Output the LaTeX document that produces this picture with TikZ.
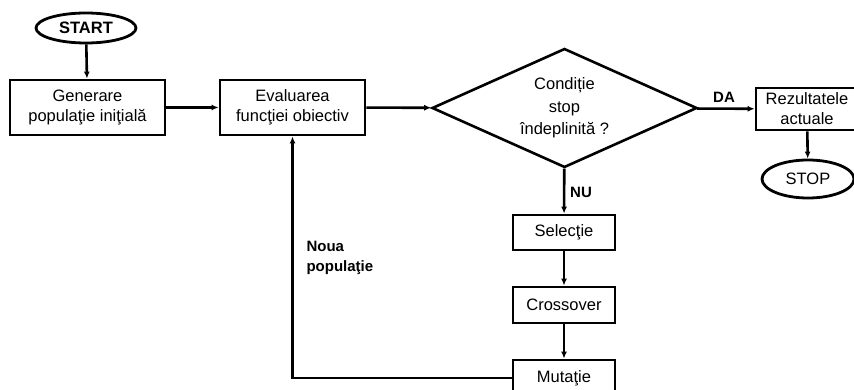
\documentclass[tikz,border=0pt]{standalone}
\usepackage{fontspec}
\setmainfont{Liberation Sans}
\usetikzlibrary{arrows.meta,positioning,shapes.geometric,shadows}

\begin{document}
\begin{tikzpicture}[
    x=1pt, y=-1pt,
    font=\fontsize{16.5}{20}\selectfont,
    box/.style={rectangle, draw, line width=2.8pt, fill=white, text centered, inner sep=2pt,
      drop shadow={shadow xshift=1.2pt, shadow yshift=-1.2pt, fill=black, opacity=1}},
    term/.style={ellipse, draw, line width=2.8pt, fill=white, inner sep=0pt},
    decision/.style={diamond, aspect=2.2, draw, line width=2.6pt, fill=white, align=center, inner sep=0pt,
      font=\fontsize{16.5}{22.5}\selectfont},
    lbl/.style={font=\fontsize{15}{20}\selectfont\bfseries, align=left},
    arrow/.style={-{Latex[length=7pt,width=6pt]}, line width=2.6pt}
  ]
    \useasboundingbox (0,0) rectangle (854,390);

    \node[term, minimum width=100pt, minimum height=30pt] (start) at (86,28) {\textbf{START}};
    \node[box, minimum width=155pt, minimum height=55pt, align=center] (gen) at (87.5,107.5) {Generare\\populaţie iniţială};
    \node[box, minimum width=145pt, minimum height=55pt, align=center] (eval) at (292.5,107.5) {Evaluarea\\funcţiei obiectiv};
    \node[decision, minimum width=265pt, minimum height=119pt] (cond) at (564.5,108) {Condiție\\stop\\îndeplinită ?};
    \node[box, minimum width=102pt, minimum height=42pt, align=center] (rez) at (807,109) {Rezultatele\\actuale};
    \node[term, minimum width=92pt, minimum height=38pt] (stop) at (808,179) {STOP};
    \node[box, minimum width=102pt, minimum height=35pt] (sel) at (564,232.5) {Selecţie};
    \node[box, minimum width=102pt, minimum height=36pt] (cross) at (564,305) {Crossover};
    \node[box, minimum width=102pt, minimum height=36pt] (mut) at (564,378) {Mutaţie};

    \draw[arrow] (start) -- (gen);
    \draw[arrow] (gen) -- (eval);
    \draw[arrow] (eval) -- (cond);
    \draw[arrow] (cond) -- (rez);
    \draw[arrow] (rez) -- (stop);
    \draw[arrow] (cond) -- (sel);
    \draw[arrow] (sel) -- (cross);
    \draw[arrow] (cross) -- (mut);
    \draw[arrow] (mut.west) -| (eval.south);

    \node[lbl] (da) at (724,97) {DA};
    \node[lbl] (nu) at (581,192) {NU};
    \node[lbl, anchor=west] (noua) at (303,258) {Noua\\populaţie};
  \end{tikzpicture}
\end{document}
